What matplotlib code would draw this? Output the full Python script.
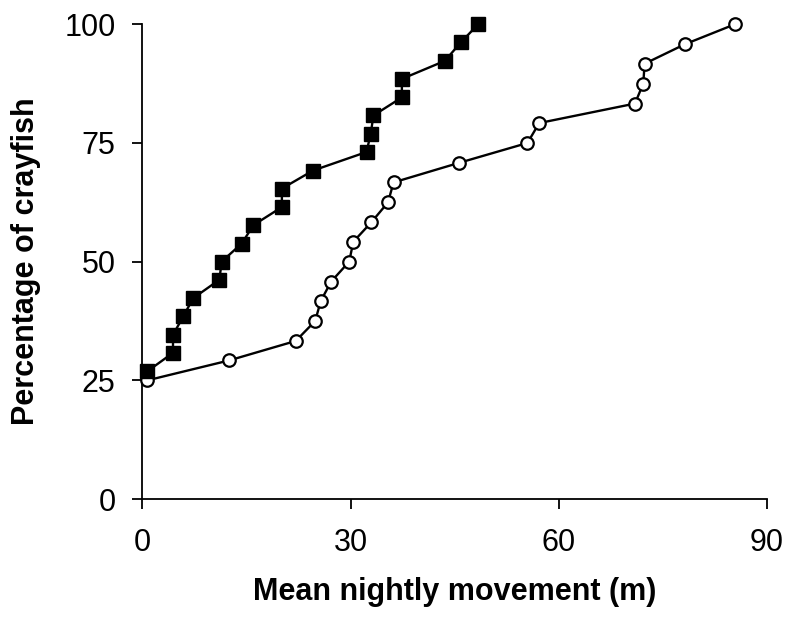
import matplotlib
matplotlib.use("Agg")
import matplotlib.pyplot as plt

plt.rcParams['font.family'] = ['Liberation Sans', 'DejaVu Sans']

# Filled squares series
sq_x = [0.7, 4.4, 4.4, 5.9, 7.3, 11.1, 11.4, 14.3, 16.0, 20.1, 20.1, 24.6,
        32.3, 32.9, 33.3, 37.4, 37.4, 43.6, 45.9, 48.4]
sq_y = [26.9, 30.8, 34.6, 38.5, 42.3, 46.2, 50.0, 53.8, 57.7, 61.5, 65.4, 69.2,
        73.1, 76.9, 80.8, 84.6, 88.5, 92.3, 96.2, 100.0]

# Open circles series
ci_x = [0.7, 12.5, 22.1, 24.9, 25.7, 27.2, 29.8, 30.4, 33.0, 35.4, 36.2, 45.6,
        55.5, 57.2, 71.0, 72.2, 72.4, 78.2, 85.4]
ci_y = [25.0, 29.2, 33.3, 37.5, 41.7, 45.8, 50.0, 54.2, 58.3, 62.5, 66.7, 70.8,
        75.0, 79.2, 83.3, 87.5, 91.7, 95.8, 100.0]

x_ticks = [0, 30, 60, 90]
y_ticks = [0, 25, 50, 75, 100]

fig = plt.figure(figsize=(7.85, 6.17), dpi=100)
ax = fig.add_axes([0.1815, 0.1912, 0.7952, 0.7694])

ax.plot(ci_x, ci_y, '-o', color='black', lw=1.7, markersize=9,
        markerfacecolor='white', markeredgecolor='black', markeredgewidth=1.6,
        zorder=3, clip_on=False)
ax.plot(sq_x, sq_y, '-s', color='black', lw=1.7, markersize=9.5,
        markerfacecolor='black', markeredgecolor='black', zorder=4, clip_on=False)

ax.set_xlim(0, 90)
ax.set_ylim(0, 100)
ax.set_xticks(x_ticks)
ax.set_yticks(y_ticks)
ax.spines['top'].set_visible(False)
ax.spines['right'].set_visible(False)
for s in ['left', 'bottom']:
    ax.spines[s].set_linewidth(1.3)
ax.tick_params(direction='out', length=7.5, width=1.3, labelsize=22)
ax.tick_params(axis='y', pad=12)
ax.tick_params(axis='x', pad=13)

ax.set_xlabel('Mean nightly movement (m)', fontsize=22, fontweight='bold', labelpad=14)
ax.set_ylabel('Percentage of crayfish', fontsize=22, fontweight='bold', labelpad=17)

fig.savefig('out.png', dpi=100)
